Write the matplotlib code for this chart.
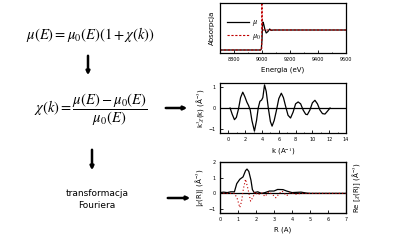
import matplotlib
matplotlib.use("Agg")
import matplotlib.pyplot as plt
from matplotlib.patches import FancyArrowPatch

plt.rcParams["mathtext.fontset"] = "stix"
plt.rcParams["font.family"] = "DejaVu Sans"

# absorption spectrum (eV, normalised)
energy = [8700, 8990, 8995, 9000, 9003, 9006, 9012, 9020, 9030, 9042, 9055, 9065, 9080, 9100, 9130, 9600]
mu = [0.0, 0.0, 0.05, 0.5, 1.15, 1.4, 1.3, 1.05, 0.85, 0.92, 1.05, 0.98, 1.0, 1.0, 1.0, 1.0]
energy0 = [8700, 8998, 8999, 9003, 9600]
mu0 = [0.0, 0.0, 2.6, 1.0, 1.0]

# EXAFS k^3 chi(k)
k = [0.2, 0.45, 0.72, 0.95, 1.2, 1.45, 1.71, 1.95, 2.2, 2.4, 2.6, 2.8, 3.1, 3.35, 3.55, 3.75,
     3.95, 4.1, 4.3, 4.5, 4.75, 5.0, 5.2, 5.45, 5.7, 6.0, 6.3, 6.55, 6.8, 7.1, 7.4, 7.7, 8.0,
     8.3, 8.6, 8.9, 9.2, 9.4, 9.7, 10.0, 10.3, 10.6, 10.9, 11.2, 11.5, 11.8, 12.1]
chi = [0.0, -0.3, -0.56, -0.45, -0.05, 0.5, 0.76, 0.55, 0.28, 0.12, -0.1, -0.6, -1.11, -0.6, 0.0, 0.32,
       0.38, 0.5, 1.11, 0.8, 0.0, -0.65, -0.87, -0.6, -0.15, 0.45, 0.71, 0.5, 0.1, -0.35, -0.48, -0.2, 0.2,
       0.29, 0.2, -0.1, -0.3, -0.32, -0.1, 0.25, 0.37, 0.2, -0.1, -0.27, -0.29, -0.15, 0.0]

# Fourier transform
r = [0.0, 0.2, 0.4, 0.6, 0.8, 0.93, 1.1, 1.28, 1.42, 1.5, 1.6, 1.72, 1.8, 1.9, 2.1, 2.3, 2.5,
     2.75, 3.0, 3.2, 3.5, 3.7, 4.0, 4.5, 4.8, 5.0, 7.0]
chi_abs = [0.05, 0.08, 0.05, 0.1, 0.1, 0.62, 0.9, 1.05, 1.45, 1.55, 1.4, 0.84, 0.24, 0.05, 0.1, 0.0, 0.05,
           0.15, 0.15, 0.25, 0.24, 0.15, 0.05, 0.08, 0.02, 0.0, 0.0]
r_re = [0.0, 0.8, 0.95, 1.1, 1.2, 1.3, 1.42, 1.55, 1.7, 1.85, 1.95, 2.1, 2.3, 2.5, 2.7, 2.9, 3.1,
        3.3, 3.45, 3.7, 3.9, 4.2, 4.5, 7.0]
chi_re = [0.0, 0.0, -0.3, -0.9, -0.5, 0.3, 0.9, 0.3, -0.5, -0.2, 0.1, -0.1, 0.05, -0.2, 0.1, -0.05, -0.28,
          0.0, 0.15, -0.15, 0.05, -0.05, 0.0, 0.0]

W, H = 406, 246
fig = plt.figure(figsize=(W / 100, H / 100), dpi=100)


def box(x0, y0, x1, y1):
    return [x0 / W, 1 - y1 / H, (x1 - x0) / W, (y1 - y0) / H]


def style(ax):
    ax.tick_params(direction="in", length=2, width=0.6, labelsize=3.5, pad=3)
    ax.tick_params(which="minor", direction="in", length=1, width=0.5)
    for s in ax.spines.values():
        s.set_linewidth(0.9)


# top: absorption
ax1 = fig.add_axes(box(220, 3, 346, 53))
ax1.plot(energy, mu, color="black", lw=0.9, label=r"$\mu$")
ax1.plot(energy0, mu0, color="#c00000", lw=0.8, ls=(0, (2, 1.5)), label=r"$\mu_0$")
ax1.set_xlim(8700, 9600)
ax1.set_ylim(-0.15, 2.35)
ax1.set_xticks([8800, 9000, 9200, 9400, 9600])
ax1.set_xticks(range(8700, 9600, 100), minor=True)
ax1.set_yticks([])
ax1.set_xlabel("Energia (eV)", fontsize=5, labelpad=3)
ax1.set_ylabel("Absorpcja", fontsize=5, labelpad=4)
ax1.legend(loc="upper left", bbox_to_anchor=(0.0, 0.86), frameon=False, fontsize=6,
           handlelength=2.6, labelspacing=0.3, handletextpad=0.4)
style(ax1)

# middle: chi(k)
ax2 = fig.add_axes(box(220, 83, 346, 133))
ax2.plot(k, chi, color="black", lw=0.9)
ax2.axhline(0, color="black", lw=0.9)
ax2.set_xlim(-1, 14)
ax2.set_ylim(-1.2, 1.2)
ax2.set_xticks(range(0, 15, 2))
ax2.set_xticks(range(-1, 15), minor=True)
ax2.set_yticks([-1, 0, 1])
ax2.set_xlabel(r"k (A$^{-1}$)", fontsize=5, labelpad=3)
ax2.set_ylabel(r"k$^{3}$$\chi$(k) (Å$^{-3}$)", fontsize=5, labelpad=2)
style(ax2)

# bottom: Fourier transform
ax3 = fig.add_axes(box(220, 162, 346, 213))
ax3.plot(r, chi_abs, color="black", lw=0.9)
ax3.axhline(0, color="black", lw=0.9)
ax3.plot(r_re, chi_re, color="#c00000", lw=0.8, ls=(0, (1, 2)))
ax3.set_xlim(0, 7)
ax3.set_ylim(-1.25, 2.0)
ax3.set_xticks(range(0, 8))
ax3.set_yticks([-1, 0, 1, 2])
ax3.set_xlabel("R (A)", fontsize=5, labelpad=3)
ax3.set_ylabel(r"|$\chi$(R)| (Å$^{-3}$)", fontsize=5, labelpad=2)
ax3r = ax3.twinx()
ax3r.set_ylim(-1.25, 2.0)
ax3r.set_yticks([])
ax3r.set_ylabel(r"Re [$\chi$(R)] (Å$^{-3}$)", fontsize=5, labelpad=3)
style(ax3)

# left: equations and arrows
fig.text(90 / W, 1 - 35 / H, r"$\mu(E) = \mu_0(E)\left(1 + \chi(k)\right)$",
         fontsize=10.5, ha="center", va="center")
fig.text(91 / W, 1 - 110 / H, r"$\chi(k) = \dfrac{\mu(E) - \mu_0(E)}{\mu_0(E)}$",
         fontsize=10.5, ha="center", va="center")
fig.text(97 / W, 1 - 193 / H, "transformacja", fontsize=6.5, ha="center", va="center")
fig.text(97 / W, 1 - 205 / H, "Fouriera", fontsize=6.5, ha="center", va="center")

for (x0, y0, x1, y1) in [(88, 53, 88, 78), (92, 147, 92, 173), (163, 108, 190, 108), (165, 198, 193, 198)]:
    fig.add_artist(FancyArrowPatch((x0 / W, 1 - y0 / H), (x1 / W, 1 - y1 / H),
                                   transform=fig.transFigure, arrowstyle="-|>",
                                   mutation_scale=5, lw=1.8, color="black"))

fig.savefig("out.png", dpi=100)
